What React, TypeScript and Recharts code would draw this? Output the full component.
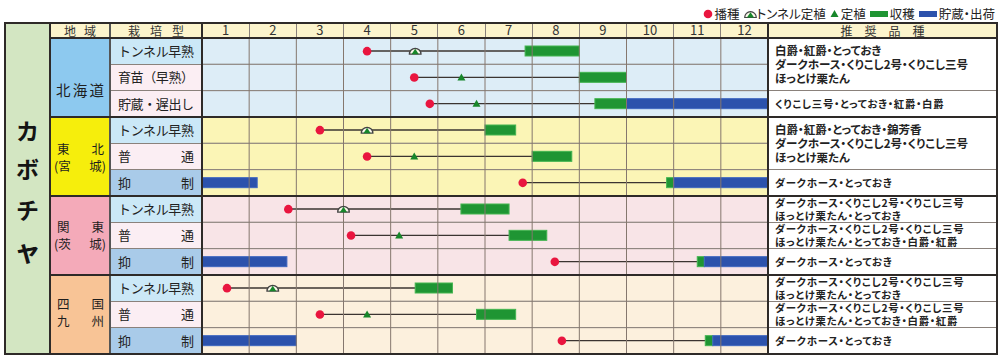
import React from "react";
import {
  ComposedChart, Bar, Scatter, XAxis, YAxis, ReferenceArea, ReferenceLine,
} from "recharts";

const FONT = '"Noto Sans CJK JP", "Noto Sans", sans-serif';

// table frame
const LEFT = 5;
const COL_REGION = 50;
const COL_TYPE = 110;
const GRID_L = 202;
const GRID_R = 768;
const RIGHT = 997;
const TOP = 23;
const HEAD_B = 38;
const BOTTOM = 354;
const ROW_H = (BOTTOM - HEAD_B) / 12;
const MONTH_W = (GRID_R - GRID_L) / 12;

const DARK = "#2e2a28";
const THIN = "#8a817b";

const months = ["1", "2", "3", "4", "5", "6", "7", "8", "9", "10", "11", "12"];
const regions = ["北海道", "東北（宮城）", "関東（茨城）", "四国九州"];
const rowRegion = [0, 0, 0, 1, 1, 1, 2, 2, 2, 3, 3, 3];
const cultivationTypes = [
  "トンネル早熟", "育苗（早熟）", "貯蔵・遅出し",
  "トンネル早熟", "普通", "抑制",
  "トンネル早熟", "普通", "抑制",
  "トンネル早熟", "普通", "抑制",
];

// positions in months: 0 = start of Jan, 12 = end of Dec
const sowing = [3.5, 4.5, 4.83, 2.5, 3.5, 6.8, 1.83, 3.16, 7.48, 0.53, 2.5, 7.63];
const tunnelPlanting = [4.52, null, null, 3.5, null, null, 3.0, null, null, 1.5, null, null];
const planting = [null, 5.5, 5.82, null, 4.5, null, null, 4.18, null, null, 3.5, null];
const harvestStart = [6.85, 8.0, 8.33, 6.0, 7.0, 9.85, 5.49, 6.51, 10.5, 4.52, 5.82, 10.67];
const harvestEnd = [8.0, 9.0, 9.0, 6.65, 7.84, 10.0, 6.51, 7.31, 10.65, 5.31, 6.65, 10.83];
const storageEnd = [null, null, 12, null, null, 12, null, null, 12, null, null, 12];
// storage carried over from the previous year's crop
const carryoverEnd = [null, null, null, null, null, 1.17, null, null, 1.8, null, null, 2.0];

const varietyCells = [
  { from: 0, to: 1, lines: ["白爵・紅爵・とっておき", "ダークホース・くりこし2号・くりこし三号", "ほっとけ栗たん"] },
  { from: 2, to: 2, lines: ["くりこし三号・とっておき・紅爵・白爵"] },
  { from: 3, to: 4, lines: ["白爵・紅爵・とっておき・錦芳香", "ダークホース・くりこし2号・くりこし三号", "ほっとけ栗たん"] },
  { from: 5, to: 5, lines: ["ダークホース・とっておき"] },
  { from: 6, to: 6, lines: ["ダークホース・くりこし2号・くりこし三号", "ほっとけ栗たん・とっておき"] },
  { from: 7, to: 7, lines: ["ダークホース・くりこし2号・くりこし三号", "ほっとけ栗たん・とっておき・白爵・紅爵"] },
  { from: 8, to: 8, lines: ["ダークホース・とっておき"] },
  { from: 9, to: 9, lines: ["ダークホース・くりこし2号・くりこし三号", "ほっとけ栗たん・とっておき"] },
  { from: 10, to: 10, lines: ["ダークホース・くりこし2号・くりこし三号", "ほっとけ栗たん・とっておき・白爵・紅爵"] },
  { from: 11, to: 11, lines: ["ダークホース・とっておき"] },
];

const regionLabels = [
  [["北", "海", "道"]],
  [["東", "北"], ["(宮", "城)"]],
  [["関", "東"], ["(茨", "城)"]],
  [["四", "国"], ["九", "州"]],
];
const regionLabelShift = [12, 0, -1, -3];

const regionColors = ["#8dc9ef", "#f6ee0c", "#f4aab9", "#f8c496"];
const gridColors = ["#ddedf7", "#fbf5b6", "#f8e4e7", "#fcf0dd"];
const typeColor = (t: string) =>
  t === "トンネル早熟" ? "#cbe8f7" : t === "抑制" ? "#a9cbe9" : "#fbeef3";

const data = cultivationTypes.map((type, i) => {
  const carry = carryoverEnd[i] ?? 0;
  return {
    id: `${regions[rowRegion[i]]}-${i}`,
    type,
    sow: sowing[i],
    tunnel: tunnelPlanting[i],
    plant: planting[i],
    carry,
    gap: sowing[i] - carry,
    grow: harvestStart[i] - sowing[i],
    harvest: harvestEnd[i] - harvestStart[i],
    store: storageEnd[i] != null ? (storageEnd[i] as number) - harvestEnd[i] : 0,
  };
});

const monthTicks = months.map((_, i) => i + 0.5);

const HarvestBar = (p: any) =>
  p.width > 0.3 ? (
    <rect x={p.x} y={p.y} width={p.width} height={p.height} fill="#1f9533" stroke="#44b551" strokeWidth={1} />
  ) : <g />;

const StoreBar = (p: any) =>
  p.width > 0.3 ? (
    <rect x={p.x} y={p.y} width={p.width} height={p.height} fill="#2c52ac" stroke="#3f67c0" strokeWidth={1} />
  ) : <g />;

const GrowLine = (p: any) =>
  p.width > 0.3 ? (
    <line x1={p.x} x2={p.x + p.width} y1={p.y + p.height / 2} y2={p.y + p.height / 2} stroke="#3b3431" strokeWidth={1.3} />
  ) : <g />;

const ok = (p: any) => Number.isFinite(p.cx) && Number.isFinite(p.cy);

const SowDot = (p: any) => (ok(p) ? <circle cx={p.cx} cy={p.cy} r={4.3} fill="#e9153f" /> : <g />);

const PlantMark = (p: any) =>
  ok(p) ? (
    <path d={`M${p.cx - 4},${p.cy + 3} L${p.cx + 4},${p.cy + 3} L${p.cx},${p.cy - 4} Z`} fill="#17862a" />
  ) : <g />;

const TunnelMark = (p: any) =>
  ok(p) ? (
    <g>
      <path d={`M${p.cx - 5.8},${p.cy + 3} A5.8,5.8 0 0 1 ${p.cx + 5.8},${p.cy + 3} Z`} fill="#fbf8ec" stroke="#444" strokeWidth={1.3} />
      <path d={`M${p.cx - 3.6},${p.cy + 3} L${p.cx + 3.6},${p.cy + 3} L${p.cx},${p.cy - 2.3} Z`} fill="#17862a" />
    </g>
  ) : <g />;

const MonthTick = (p: any) => (
  <text x={p.x} y={p.y} dy={-3.5} textAnchor="middle" fontSize={13} fill="#333" fontFamily={FONT}>
    {months[Math.floor(p.payload.value)]}
  </text>
);

const TypeTick = (p: any) => {
  const row = data.find((d) => d.id === p.payload.value);
  return (
    <text x={p.x} y={p.y} dy="0.36em" textAnchor="end" fontSize={13} fill="#222" fontFamily={FONT}
      textLength={76} lengthAdjust="spacing">
      {row ? row.type : ""}
    </text>
  );
};

const box = (key: string, left: number, top: number, width: number, height: number, style: any = {}) => (
  <div key={key} style={{ position: "absolute", left, top, width, height, ...style }} />
);

const hLine = (key: string, x1: number, x2: number, y: number, w: number, color: string) =>
  box(key, x1, y - w / 2, x2 - x1, w, { background: color });
const vLine = (key: string, x: number, y1: number, y2: number, w: number, color: string) =>
  box(key, x - w / 2, y1, w, y2 - y1, { background: color });

function Legend() {
  const item = { display: "flex", alignItems: "center", marginLeft: 4 } as const;
  return (
    <div style={{ position: "absolute", right: 5, top: 4, display: "flex", alignItems: "center", fontSize: 12.5, color: "#222", fontFeatureSettings: '"palt"' }}>
      <div style={item}>
        <svg width={10} height={10}><circle cx={5} cy={5} r={4.3} fill="#e9153f" /></svg>
        <span style={{ marginLeft: 2 }}>播種</span>
      </div>
      <div style={item}>
        <svg width={13} height={11}>
          <path d="M0.7,9.5 A5.8,5.8 0 0 1 12.3,9.5 Z" fill="#fbf8ec" stroke="#444" strokeWidth={1.2} />
          <path d="M2.9,9.5 L10.1,9.5 L6.5,4.3 Z" fill="#17862a" />
        </svg>
        <span>トンネル定植</span>
      </div>
      <div style={item}>
        <svg width={9} height={9}><path d="M0.5,8 L8.5,8 L4.5,1 Z" fill="#17862a" /></svg>
        <span style={{ marginLeft: 2 }}>定植</span>
      </div>
      <div style={item}>
        <svg width={18} height={6}><rect x={0} y={0} width={18} height={6} fill="#1f9533" /></svg>
        <span style={{ marginLeft: 2 }}>収穫</span>
      </div>
      <div style={item}>
        <svg width={18} height={6}><rect x={0} y={0} width={18} height={6} fill="#2c52ac" /></svg>
        <span style={{ marginLeft: 2 }}>貯蔵・出荷</span>
      </div>
    </div>
  );
}

export default function App() {
  const rowY = (i: number) => HEAD_B + i * ROW_H;

  const background = [
    box("col1", LEFT, TOP, COL_REGION - LEFT, BOTTOM - TOP, { background: "#d3e6c2" }),
    box("head", COL_REGION, TOP, RIGHT - COL_REGION, HEAD_B - TOP, { background: "#fcf4cc" }),
    box("variety", GRID_R, HEAD_B, RIGHT - GRID_R, BOTTOM - HEAD_B, { background: "#fff" }),
    ...regions.map((_, r) =>
      box(`reg${r}`, COL_REGION, rowY(r * 3), COL_TYPE - COL_REGION, ROW_H * 3, { background: regionColors[r] })),
    ...cultivationTypes.map((t, i) =>
      box(`type${i}`, COL_TYPE, rowY(i), GRID_L - COL_TYPE, ROW_H, { background: typeColor(t) })),
  ];

  const lines = [
    // thin row lines in the type column
    ...cultivationTypes.map((_, i) => (i > 0 && i % 3 !== 0 ? hLine(`tl${i}`, COL_TYPE, GRID_L, rowY(i), 1, THIN) : null)),
    // variety cell separators
    ...varietyCells.map((c, k) => (k > 0 && c.from % 3 !== 0 ? hLine(`vl${k}`, GRID_R, RIGHT, rowY(c.from), 1, THIN) : null)),
    // header month separators
    ...months.map((_, m) => (m > 0 ? vLine(`hm${m}`, GRID_L + m * MONTH_W, TOP, HEAD_B, 1, THIN) : null)),
    vLine("c1", COL_REGION, TOP, BOTTOM, 1.5, DARK),
    vLine("c2", COL_TYPE, TOP, BOTTOM, 1.2, "#555"),
    vLine("c3", GRID_L, TOP, BOTTOM, 1.5, DARK),
    vLine("c4", GRID_R, TOP, BOTTOM, 1.5, DARK),
    hLine("hb", COL_REGION, RIGHT, HEAD_B, 1.5, DARK),
    ...[1, 2, 3].map((r) => hLine(`rb${r}`, COL_REGION, RIGHT, rowY(r * 3), 2, DARK)),
    box("frame", LEFT - 1, TOP - 1, RIGHT - LEFT + 2, BOTTOM - TOP + 2, { border: `2px solid ${DARK}`, boxSizing: "border-box" }),
  ];

  const kanaY = [130, 168, 209, 250];
  const texts = [
    ...["カ", "ボ", "チ", "ャ"].map((ch, k) => (
      <div key={`k${k}`} style={{ position: "absolute", left: LEFT, width: COL_REGION - LEFT, top: kanaY[k] - 14, height: 28, textAlign: "center", fontSize: k === 3 ? 27 : 23, fontWeight: 700, lineHeight: "28px", color: "#141414" }}>{ch}</div>
    )),
    ...regionLabels.map((lns, r) => (
      <div key={`rl${r}`} style={{ position: "absolute", left: COL_REGION + 4, width: 52, top: rowY(r * 3) + regionLabelShift[r], height: ROW_H * 3, display: "flex", flexDirection: "column", justifyContent: "center", fontSize: r === 0 ? 14.5 : 12.5, lineHeight: "17px", color: "#1e1e1e" }}>
        {lns.map((parts, j) => (
          <div key={j} style={{ display: "flex", justifyContent: "space-between", height: 17, padding: r === 0 ? "0 2px" : parts[0].length > 1 ? "0" : "0 2px 0 3px" }}>
            {parts.map((s, q) => <span key={q}>{s}</span>)}
          </div>
        ))}
      </div>
    )),
    <div key="h1" style={{ position: "absolute", left: COL_REGION, width: COL_TYPE - COL_REGION, top: TOP, height: HEAD_B - TOP, lineHeight: `${HEAD_B - TOP}px`, textAlign: "center", fontSize: 12, color: "#333", letterSpacing: 8, textIndent: 8 }}>地域</div>,
    <div key="h2" style={{ position: "absolute", left: COL_TYPE, width: GRID_L - COL_TYPE, top: TOP, height: HEAD_B - TOP, lineHeight: `${HEAD_B - TOP}px`, textAlign: "center", fontSize: 12, color: "#333", letterSpacing: 10, textIndent: 10 }}>栽培型</div>,
    <div key="h3" style={{ position: "absolute", left: GRID_R, width: RIGHT - GRID_R, top: TOP, height: HEAD_B - TOP, lineHeight: `${HEAD_B - TOP}px`, textAlign: "center", fontSize: 12, color: "#333", letterSpacing: 12, textIndent: 12 }}>推奨品種</div>,
    ...varietyCells.map((c, k) => {
      const three = c.lines.length === 3;
      return (
        <div key={`v${k}`} style={{ position: "absolute", left: GRID_R + 7, width: RIGHT - GRID_R - 8, top: rowY(c.from), height: ROW_H * (c.to - c.from + 1), display: "flex", flexDirection: "column", justifyContent: "center", fontSize: three ? 11.5 : 10.4, fontWeight: 700, lineHeight: three ? "14px" : "13.1px", letterSpacing: three ? 0 : 0.75, color: "#222", fontFeatureSettings: '"palt"', whiteSpace: "nowrap" }}>
          {c.lines.map((l, j) => <div key={j}>{l}</div>)}
        </div>
      );
    }),
  ];

  return (
    <div style={{ position: "absolute", left: 0, top: 0, width: 1000, height: 360, background: "#fff", fontFamily: FONT, overflow: "hidden" }}>
      {background}
      <div style={{ position: "absolute", left: 0, top: 0 }}>
        <ComposedChart
          width={1000}
          height={360}
          layout="vertical"
          data={data}
          margin={{ top: TOP, right: 1000 - GRID_R, bottom: 360 - BOTTOM, left: COL_TYPE }}
          barCategoryGap={0}
        >
          <XAxis type="number" orientation="top" domain={[0, 12]} ticks={monthTicks} interval={0}
            height={HEAD_B - TOP} axisLine={false} tickLine={false} tickSize={0} tickMargin={0}
            tick={MonthTick} allowDataOverflow />
          <YAxis type="category" dataKey="id" width={GRID_L - COL_TYPE} axisLine={false} tickLine={false}
            tickSize={0} tickMargin={8} tick={TypeTick} interval={0} />
          {data.map((d, i) => (
            <ReferenceArea key={`ra${i}`} y1={d.id} y2={d.id} x1={0} x2={12}
              fill={gridColors[rowRegion[i]]} fillOpacity={1} stroke={THIN} strokeWidth={1} />
          ))}
          {months.slice(1).map((_, m) => (
            <ReferenceLine key={`ml${m}`} x={m + 1} stroke="#85776e" strokeWidth={1} />
          ))}
          <Bar dataKey="carry" stackId="s" barSize={10} shape={StoreBar} isAnimationActive={false} />
          <Bar dataKey="gap" stackId="s" barSize={10} fill="none" shape={() => <g />} isAnimationActive={false} />
          <Bar dataKey="grow" stackId="s" barSize={10} shape={GrowLine} isAnimationActive={false} />
          <Bar dataKey="harvest" stackId="s" barSize={10} shape={HarvestBar} isAnimationActive={false} />
          <Bar dataKey="store" stackId="s" barSize={10} shape={StoreBar} isAnimationActive={false} />
          <Scatter dataKey="plant" shape={PlantMark} isAnimationActive={false} />
          <Scatter dataKey="tunnel" shape={TunnelMark} isAnimationActive={false} />
          <Scatter dataKey="sow" shape={SowDot} isAnimationActive={false} />
        </ComposedChart>
      </div>
      <div style={{ position: "absolute", left: 0, top: 0, width: 1000, height: 360, pointerEvents: "none" }}>
        {lines}
        {texts}
        <Legend />
      </div>
    </div>
  );
}
